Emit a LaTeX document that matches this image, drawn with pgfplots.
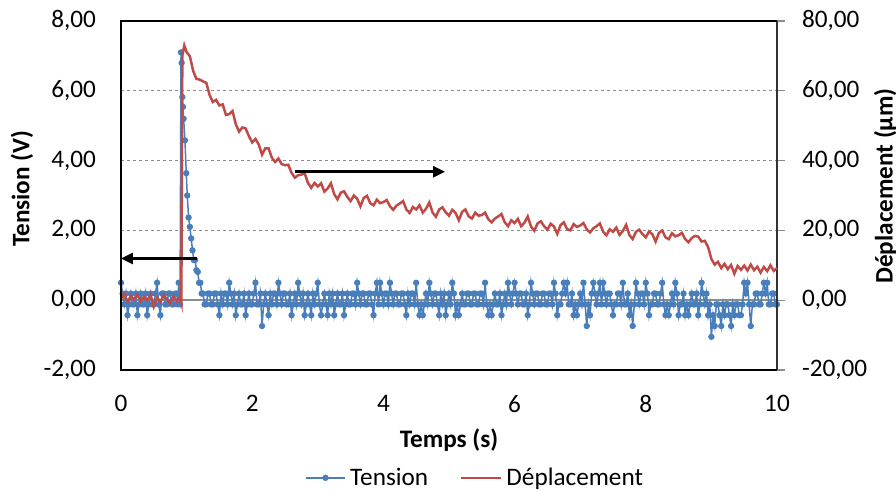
\documentclass[border=0pt]{standalone}
\usepackage{fontspec}
\setmainfont{Carlito}
\usepackage{pgfplots}
\pgfplotsset{compat=1.18}
\usetikzlibrary{arrows.meta}

\definecolor{exblue}{RGB}{74,126,187}
\definecolor{exred}{RGB}{190,75,72}

\begin{document}
\begin{tikzpicture}[font=\fontsize{12.6}{15}\selectfont]
\begin{axis}[
  width=328pt, height=174.5pt, scale only axis,
  at={(0,0)}, anchor=south west,
  xmin=0, xmax=10, ymin=-2, ymax=8,
  xtick={0,2,...,10}, ytick={-2,0,...,8},
  /pgf/number format/assume math mode=true,
  axis line style={-, line width=1.3pt, black},
  major tick length=0pt,
  ymajorgrids, grid style={dash pattern=on 1.5pt off 1.5pt, black!45, line width=0.5pt},
  xticklabel style={yshift=-9pt},
  yticklabel style={xshift=-9pt, /pgf/number format/.cd, fixed, fixed zerofill, precision=2, use comma},
  xlabel={\bfseries Temps (s)},
  xlabel style={at={(axis description cs:0.5,0)}, anchor=center, yshift=-35pt},
  ylabel={\bfseries Tension (V)},
  ylabel style={at={(axis description cs:-0.151,0.519)}, anchor=center},
]
\draw[black!45, line width=0.75pt] (axis cs:0,0) -- (axis cs:10,0);
\addplot[color=exblue, line width=0.75pt, mark=*, mark size=1.2pt] table {
0.00 0.50
0.025 0.19
0.05 -0.12
0.075 0.19
0.10 -0.43
0.125 -0.12
0.15 0.19
0.175 -0.12
0.20 -0.12
0.225 0.19
0.25 -0.43
0.275 -0.12
0.30 0.19
0.325 -0.12
0.35 -0.12
0.375 0.19
0.40 -0.43
0.425 -0.12
0.45 0.19
0.475 -0.12
0.50 -0.12
0.525 0.19
0.55 0.50
0.575 -0.12
0.60 -0.43
0.625 0.19
0.65 0.19
0.675 -0.12
0.70 -0.12
0.725 0.19
0.75 0.19
0.775 -0.12
0.80 -0.12
0.825 0.19
0.85 0.19
0.865 -0.12
0.88 0.50
0.90 -0.12
0.915 7.10
0.925 6.80
0.935 5.82
0.945 5.54
0.955 5.20
0.975 4.58
0.995 3.64
1.01 3.00
1.03 2.37
1.05 2.10
1.07 1.77
1.09 1.43
1.11 1.15
1.13 1.15
1.15 0.86
1.17 0.81
1.19 0.50
1.21 0.50
1.23 0.19
1.25 0.19
1.275 -0.12
1.30 -0.12
1.325 0.19
1.35 0.19
1.375 -0.12
1.40 -0.12
1.425 0.19
1.45 0.19
1.475 -0.12
1.50 -0.43
1.525 0.19
1.55 -0.12
1.575 0.19
1.60 0.19
1.625 -0.12
1.65 0.50
1.675 0.19
1.70 -0.12
1.725 0.19
1.75 -0.43
1.775 -0.12
1.80 0.19
1.825 -0.12
1.85 -0.12
1.875 0.19
1.90 -0.43
1.925 -0.12
1.95 0.19
1.975 -0.12
2.00 -0.12
2.025 0.19
2.05 0.50
2.075 -0.12
2.10 -0.12
2.125 0.19
2.15 -0.74
2.175 -0.12
2.20 0.19
2.225 -0.12
2.25 -0.43
2.275 0.19
2.30 -0.12
2.325 0.19
2.35 0.19
2.375 -0.12
2.40 0.50
2.425 0.19
2.45 -0.12
2.475 0.19
2.50 0.19
2.525 -0.12
2.55 -0.12
2.575 0.19
2.60 -0.43
2.625 -0.12
2.65 0.19
2.675 -0.12
2.70 0.50
2.725 0.19
2.75 -0.12
2.775 0.19
2.80 -0.43
2.825 -0.12
2.85 0.19
2.875 -0.12
2.90 -0.43
2.925 0.19
2.95 -0.12
2.975 0.19
3.00 0.50
3.025 -0.12
3.05 -0.43
3.075 -0.12
3.10 0.19
3.125 -0.12
3.15 -0.43
3.175 0.19
3.20 -0.12
3.225 0.19
3.25 -0.43
3.275 -0.12
3.30 0.19
3.325 -0.12
3.35 -0.12
3.375 0.19
3.40 -0.43
3.425 -0.12
3.45 0.19
3.475 -0.12
3.50 -0.12
3.525 0.19
3.55 0.19
3.575 -0.12
3.60 0.50
3.625 0.19
3.65 -0.12
3.675 0.19
3.70 0.19
3.725 -0.12
3.75 -0.12
3.775 0.19
3.80 0.19
3.825 -0.12
3.85 -0.43
3.875 0.19
3.90 0.50
3.925 -0.12
3.95 0.50
3.975 0.19
4.00 -0.12
4.025 0.19
4.05 0.19
4.075 -0.12
4.10 0.50
4.125 0.19
4.15 -0.12
4.175 0.19
4.20 0.19
4.225 -0.12
4.25 -0.12
4.275 0.19
4.30 0.19
4.325 -0.12
4.35 -0.43
4.375 0.19
4.40 -0.12
4.425 0.19
4.45 0.19
4.475 -0.12
4.50 0.50
4.525 -0.12
4.55 -0.43
4.575 -0.12
4.60 -0.43
4.625 -0.12
4.65 0.19
4.675 -0.12
4.70 0.50
4.725 0.19
4.75 -0.12
4.775 0.19
4.80 0.19
4.825 -0.12
4.85 -0.43
4.875 0.19
4.90 -0.12
4.925 0.19
4.95 -0.43
4.975 -0.12
5.00 0.19
5.025 -0.12
5.05 0.50
5.075 0.19
5.10 -0.43
5.125 -0.12
5.15 -0.43
5.175 -0.12
5.20 0.19
5.225 -0.12
5.25 -0.12
5.275 0.19
5.30 0.19
5.325 -0.12
5.35 -0.12
5.375 0.19
5.40 0.19
5.425 -0.12
5.45 -0.12
5.475 0.19
5.50 0.19
5.525 -0.12
5.55 0.50
5.575 -0.12
5.60 -0.43
5.625 -0.12
5.65 -0.43
5.675 -0.12
5.70 0.19
5.725 -0.12
5.75 -0.12
5.775 0.19
5.80 -0.43
5.825 -0.12
5.85 0.19
5.875 -0.12
5.90 0.50
5.925 0.19
5.95 -0.12
5.975 0.19
6.00 0.50
6.025 0.19
6.05 -0.12
6.075 0.19
6.10 0.19
6.125 -0.12
6.15 -0.12
6.175 0.19
6.20 -0.43
6.225 -0.12
6.25 0.50
6.275 0.19
6.30 -0.12
6.325 0.19
6.35 0.19
6.375 -0.12
6.40 -0.12
6.425 0.19
6.45 0.19
6.475 -0.12
6.50 -0.12
6.525 0.19
6.55 0.19
6.575 -0.12
6.60 0.50
6.625 0.19
6.65 -0.43
6.675 -0.12
6.70 -0.12
6.725 0.19
6.75 0.50
6.775 0.19
6.80 0.50
6.825 -0.12
6.85 -0.12
6.875 0.19
6.90 -0.43
6.925 -0.12
6.95 -0.43
6.975 -0.12
7.00 0.19
7.025 -0.12
7.05 0.50
7.075 -0.12
7.10 -0.74
7.125 -0.12
7.15 -0.43
7.175 0.19
7.20 0.50
7.225 0.19
7.25 -0.12
7.275 0.19
7.30 0.50
7.325 -0.12
7.35 0.50
7.375 0.19
7.40 -0.12
7.425 0.19
7.45 0.19
7.475 -0.12
7.50 -0.43
7.525 -0.12
7.55 -0.12
7.575 0.19
7.60 0.19
7.625 -0.12
7.65 0.50
7.675 -0.12
7.70 -0.12
7.725 0.19
7.75 -0.43
7.775 -0.12
7.80 -0.74
7.825 -0.12
7.85 0.50
7.875 0.19
7.90 -0.12
7.925 0.19
7.95 0.19
7.975 -0.12
8.00 0.50
8.025 0.19
8.05 -0.43
8.075 -0.12
8.10 -0.12
8.125 0.19
8.15 0.19
8.175 -0.12
8.20 -0.12
8.225 0.19
8.25 0.50
8.275 -0.12
8.30 -0.43
8.325 -0.12
8.35 -0.43
8.375 -0.12
8.40 0.19
8.425 -0.12
8.45 0.50
8.475 0.19
8.50 -0.43
8.525 -0.12
8.55 -0.12
8.575 0.19
8.60 -0.43
8.625 -0.12
8.65 -0.43
8.675 -0.12
8.70 0.19
8.725 -0.12
8.75 -0.12
8.775 0.19
8.80 -0.43
8.825 -0.12
8.85 0.50
8.875 0.19
8.90 -0.12
8.925 0.19
8.95 -0.43
8.975 -0.12
9.00 -1.05
9.025 -0.43
9.05 -0.74
9.075 -0.12
9.10 -0.12
9.125 -0.43
9.15 -0.74
9.175 -0.12
9.20 -0.43
9.225 -0.12
9.25 -0.12
9.275 -0.43
9.30 -0.74
9.325 -0.12
9.35 -0.43
9.375 -0.12
9.40 -0.12
9.425 -0.43
9.45 -0.43
9.475 -0.12
9.50 0.50
9.525 0.19
9.55 0.50
9.575 -0.12
9.60 -0.74
9.625 -0.12
9.65 -0.12
9.675 0.19
9.70 0.19
9.725 -0.12
9.75 -0.12
9.775 0.19
9.80 0.50
9.825 0.19
9.85 0.50
9.875 -0.12
9.90 -0.12
9.925 0.19
9.95 0.19
9.975 -0.12
10.00 -0.12
};
\end{axis}

\begin{axis}[
  width=328pt, height=174.5pt, scale only axis,
  at={(0,0)}, anchor=south west,
  xmin=0, xmax=10, ymin=-20, ymax=80,
  ytick={-20,0,...,80},
  /pgf/number format/assume math mode=true,
  axis x line=none, axis y line*=right,
  y axis line style={-, line width=1.1pt, black!80},
  ytick style={black!45, line width=0.6pt},
  major tick length=4pt, tick align=outside,
  yticklabel style={xshift=5pt, /pgf/number format/.cd, fixed, fixed zerofill, precision=2, use comma},
  ylabel={\bfseries Déplacement (µm)},
  ylabel style={at={(axis description cs:1.165,0.527)}, anchor=center},
  clip=false,
  legend columns=2,
  legend style={at={(axis description cs:0.541,-0.309)}, anchor=center, draw=none, fill=none,
    /tikz/every even column/.append style={column sep=14pt}},
  legend image code/.code={\draw[mark repeat=2, mark phase=2] plot coordinates {(0cm,0cm) (0.35cm,0cm) (0.7cm,0cm)};},
]
\addlegendimage{color=exblue, line width=0.75pt, mark=*, mark size=1.2pt}
\addlegendentry{Tension}
\addplot[color=exred, line width=1.25pt] table {
0.00 0.5
0.05 1.8
0.10 -0.5
0.15 1.2
0.20 0.2
0.25 1.5
0.30 -0.3
0.35 1.0
0.40 0.0
0.45 1.6
0.50 -1.8
0.55 0.8
0.60 -0.5
0.65 1.4
0.70 0.3
0.75 -0.8
0.80 1.2
0.85 -0.4
0.90 1.0
0.92 -0.6
0.935 70.0
0.965 73.0
1.00 71.1
1.05 69.9
1.10 65.7
1.15 63.4
1.20 63.2
1.25 62.7
1.30 62.3
1.35 58.8
1.40 56.8
1.45 57.4
1.50 55.8
1.55 56.1
1.60 53.1
1.65 53.3
1.70 54.2
1.75 50.4
1.80 48.3
1.85 49.5
1.90 49.2
1.95 47.0
2.00 45.2
2.05 46.2
2.10 44.6
2.15 41.7
2.20 43.5
2.25 43.5
2.30 40.8
2.35 39.6
2.40 40.6
2.45 39.0
2.50 38.7
2.55 38.8
2.60 36.5
2.65 35.1
2.70 35.8
2.75 36.0
2.80 36.4
2.85 33.6
2.90 32.2
2.95 33.6
3.00 32.6
3.05 33.5
3.10 31.1
3.15 32.0
3.20 33.5
3.25 30.4
3.30 28.9
3.35 30.8
3.40 31.2
3.45 29.6
3.50 28.4
3.55 30.0
3.60 29.1
3.65 26.9
3.70 29.3
3.75 29.9
3.80 27.8
3.85 27.2
3.90 28.8
3.95 27.8
4.00 28.1
4.05 28.7
4.10 26.9
4.15 25.9
4.20 27.1
4.25 27.7
4.30 28.4
4.35 26.0
4.40 25.0
4.45 26.7
4.50 26.0
4.55 27.2
4.60 25.1
4.65 26.2
4.70 28.0
4.75 25.1
4.80 23.9
4.85 26.0
4.90 26.6
4.95 25.2
5.00 24.2
5.05 25.9
5.10 25.0
5.15 22.9
5.20 25.3
5.25 26.0
5.30 24.0
5.35 23.4
5.40 25.1
5.45 24.2
5.50 24.4
5.55 25.1
5.60 23.2
5.65 22.3
5.70 23.4
5.75 24.0
5.80 24.7
5.85 22.3
5.90 21.2
5.95 22.9
6.00 22.1
6.05 23.3
6.10 21.2
6.15 22.2
6.20 24.0
6.25 21.1
6.30 19.9
6.35 22.0
6.40 22.6
6.45 21.2
6.50 20.2
6.55 21.9
6.60 21.1
6.65 19.0
6.70 21.5
6.75 22.3
6.80 20.4
6.85 20.0
6.90 21.8
6.95 21.0
7.00 21.4
7.05 22.1
7.10 20.3
7.15 19.4
7.20 20.6
7.25 21.2
7.30 22.0
7.35 19.6
7.40 18.6
7.45 20.3
7.50 19.6
7.55 20.8
7.60 18.7
7.65 19.8
7.70 21.6
7.75 18.7
7.80 17.5
7.85 19.6
7.90 20.2
7.95 18.9
8.00 18.0
8.05 19.7
8.10 18.9
8.15 16.8
8.20 19.3
8.25 20.0
8.30 18.0
8.35 17.5
8.40 19.2
8.45 18.3
8.50 18.6
8.55 19.3
8.60 17.5
8.65 16.6
8.70 17.8
8.75 18.4
8.80 18.2
8.85 16.8
8.90 17.0
8.95 15.2
9.00 11.8
9.05 10.2
9.10 11.0
9.15 9.2
9.20 10.4
9.25 8.9
9.30 10.1
9.35 7.6
9.40 9.8
9.45 8.7
9.50 9.9
9.55 8.5
9.60 10.2
9.65 8.6
9.70 9.6
9.75 7.9
9.80 9.5
9.85 8.3
9.90 10.0
9.95 8.4
10.00 9.2
};
\addlegendentry{Déplacement}
% arrows telling which axis each curve uses
\draw[-{Triangle[length=6pt,width=5.5pt]}, line width=1.3pt, black] (axis cs:1.16,11.95) -- (axis cs:0,11.95);
\draw[-{Triangle[length=6pt,width=5.5pt]}, line width=1.3pt, black] (axis cs:2.65,36.8) -- (axis cs:4.94,36.8);
% plot area frame
\draw[line width=1.3pt, black] (rel axis cs:0,0) -- (rel axis cs:0,1) -- (rel axis cs:1,1);
\draw[line width=1.3pt, black] (rel axis cs:0,0) -- (rel axis cs:1,0);
\end{axis}
\pgfresetboundingbox
\path[use as bounding box] (-60.5pt,-60.5pt) rectangle (387.5pt,185pt);
\end{tikzpicture}
\end{document}
